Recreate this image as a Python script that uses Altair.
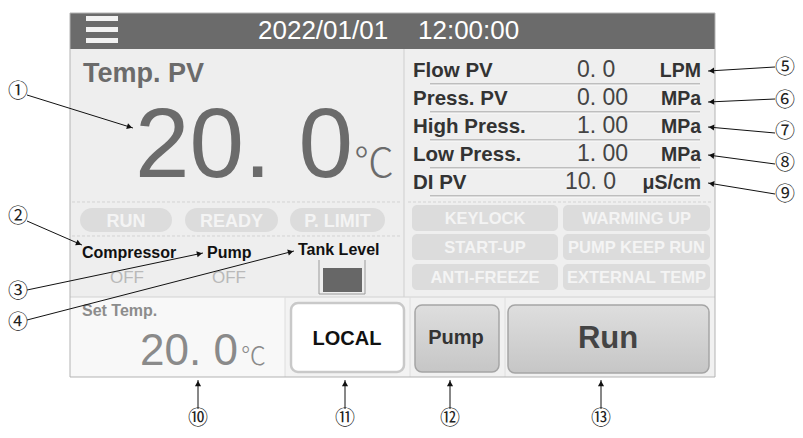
import math
import altair as alt
import pandas as pd

# ---------------- content (values shown on the panel) ----------------
header_date = "2022/01/01"
header_time = "12:00:00"
pv_title = "Temp. PV"
pv_value = "20. 0"
pv_unit = "℃"
mode_flags = ["RUN", "READY", "P. LIMIT"]
device_names = ["Compressor", "Pump"]
device_states = ["OFF", "OFF"]
tank_title = "Tank Level"
meas_labels = ["Flow PV", "Press. PV", "High Press.", "Low Press.", "DI PV"]
meas_values = ["0. 0", "0. 00", "1. 00", "1. 00", "10. 0"]
meas_units = ["LPM", "MPa", "MPa", "MPa", "μS/cm"]
status_flags = ["KEYLOCK", "WARMING UP", "START-UP", "PUMP KEEP RUN",
                "ANTI-FREEZE", "EXTERNAL TEMP"]
sp_title = "Set Temp."
sp_value = "20. 0"
sp_unit = "℃"
button_labels = ["LOCAL", "Pump", "Run"]
callout_marks = ["①", "②", "③", "④", "⑤", "⑥", "⑦", "⑧", "⑨", "⑩", "⑪", "⑫", "⑬"]

# ---------------- layout (screen pixel coordinates) ----------------
W, H = 787, 422
XS = alt.Scale(domain=[8, 8 + W], nice=False, zero=False)
YS = alt.Scale(domain=[8, 8 + H], nice=False, zero=False, reverse=True)

SANS = "Liberation Sans, Arial, sans-serif"
CJK = "Noto Sans CJK JP, DejaVu Sans, sans-serif"

FX0, FY0, FX1, FY1 = 70, 13, 715, 377
HEAD_Y1 = 49
SPLIT_X = 404
ROW_Y = 297


def rects(rows, **mark):
    df = pd.DataFrame(rows, columns=["x", "y", "x2", "y2", "c"])
    enc = dict(
        x=alt.X("x:Q", scale=XS, axis=None), x2="x2:Q",
        y=alt.Y("y:Q", scale=YS, axis=None), y2="y2:Q",
    )
    if "fill" not in mark:
        enc["fill"] = alt.Fill("c:N", scale=None, legend=None)
    return alt.Chart(df).mark_rect(**mark).encode(**enc)


def rules(rows, **mark):
    df = pd.DataFrame(rows, columns=["x", "y", "x2", "y2", "c"])
    return alt.Chart(df).mark_rule(**mark).encode(
        x=alt.X("x:Q", scale=XS, axis=None), x2="x2:Q",
        y=alt.Y("y:Q", scale=YS, axis=None), y2="y2:Q",
        color=alt.Color("c:N", scale=None, legend=None),
    )


def texts(rows, **mark):
    df = pd.DataFrame(rows, columns=["x", "y", "t", "s", "c"])
    return alt.Chart(df).mark_text(**mark).encode(
        x=alt.X("x:Q", scale=XS, axis=None),
        y=alt.Y("y:Q", scale=YS, axis=None),
        text="t:N",
        size=alt.Size("s:Q", scale=None, legend=None),
        color=alt.Color("c:N", scale=None, legend=None),
    )


layers = []

# backgrounds
layers.append(rects([
    (FX0, HEAD_Y1, SPLIT_X, ROW_Y, "#eeeeee"),
    (SPLIT_X, HEAD_Y1, FX1, ROW_Y, "#efefef"),
    (FX0, ROW_Y, 285, FY1, "#f8f8f8"),
    (285, ROW_Y, 410, FY1, "#f3f3f3"),
    (410, ROW_Y, FX1, FY1, "#f1f1f1"),
    (FX0, FY0, FX1, HEAD_Y1, "#6b6b6b"),
    (86, 16, 118, 21, "#f2f2f2"),
    (86, 27, 118, 32, "#f2f2f2"),
    (86, 38, 118, 43, "#f2f2f2"),
    (323, 268, 362, 292, "#676767"),
]))

# pills (left) and status boxes (right)
pill_boxes = [(80, 208, 172, 232), (185, 208, 278, 232), (290, 208, 385, 232)]
layers.append(rects([b + ("#dcdcdc",) for b in pill_boxes], cornerRadius=12))
status_boxes = [(412, 205, 558, 231), (563, 205, 710, 231),
                (412, 234, 558, 260), (563, 234, 710, 260),
                (412, 264, 558, 290), (563, 264, 710, 290)]
layers.append(rects([b + ("#dcdcdc",) for b in status_boxes], cornerRadius=5))

# buttons
btn_boxes = [(291, 303, 404, 372), (415, 305, 499, 372), (508, 305, 709, 373)]
layers.append(rects([btn_boxes[0] + ("#ffffff",)], cornerRadius=7,
                    stroke="#c9c9c9", strokeWidth=2.5))
grad = alt.Gradient(gradient="linear", x1=0, x2=0, y1=0, y2=1,
                    stops=[alt.GradientStop(color="#dedede", offset=0),
                           alt.GradientStop(color="#d2d2d2", offset=0.5),
                           alt.GradientStop(color="#c6c6c6", offset=1)])
layers.append(rects([b + ("x",) for b in btn_boxes[1:]], cornerRadius=7,
                    fill=grad, stroke="#a5a5a5", strokeWidth=1.5))

# lines
layers.append(rules([
    (SPLIT_X, HEAD_Y1, SPLIT_X, ROW_Y, "#cfcfcf"),
    (FX0, ROW_Y, FX1, ROW_Y, "#d2d2d2"),
    (285, ROW_Y, 285, FY1, "#dedede"),
    (410, ROW_Y, 410, FY1, "#dedede"),
    (505, ROW_Y, 505, FY1, "#dedede"),
    (319, 260, 319, 294, "#9a9a9a"),
    (365, 260, 365, 294, "#9a9a9a"),
    (319, 294, 365, 294, "#9a9a9a"),
], strokeWidth=1))
meas_base = [77, 105, 133, 161, 189]
layers.append(rules([(430, b + 7, 700, b + 7, "#8c8c8c") for b in meas_base]
                    + [(430, b + 8, 700, b + 8, "#fbfbfb") for b in meas_base],
                    strokeWidth=1))
layers.append(rules([
    (72, 202, 400, 202, "#d3d3d3"),
    (72, 236, 400, 236, "#d3d3d3"),
    (408, 202, 713, 202, "#d3d3d3"),
], strokeWidth=1, strokeDash=[3, 2]))

# frame border
layers.append(rects([(FX0, FY0, FX1, FY1, "x")], fill="transparent",
                    stroke="#b3b3b3", strokeWidth=1))

# texts: header
layers.append(texts([(258, 39, header_date, 26, "#ffffff"),
                     (418, 39, header_time, 26, "#ffffff")],
                    font=SANS, align="left", baseline="alphabetic"))
# temperature PV
layers.append(texts([(83, 82, pv_title, 27, "#6b6b6b")],
                    font=SANS, fontWeight="bold", align="left", baseline="alphabetic"))
layers.append(texts([(135, 177, pv_value, 98, "#6b6b6b"),
                     (140, 365, sp_value, 44, "#8a8a8a")],
                    font=SANS, align="left", baseline="alphabetic"))
layers.append(texts([(354, 177, pv_unit, 40, "#6b6b6b"),
                     (241, 365, sp_unit, 25, "#8a8a8a")],
                    font=CJK, fontWeight=300, align="left", baseline="alphabetic"))
# pills text
layers.append(texts([((b[0] + b[2]) / 2, 227, t, 18, "#f4f4f4")
                     for b, t in zip(pill_boxes, mode_flags)]
                    + [((b[0] + b[2]) / 2, b[1] + 19, t, 16.5, "#f4f4f4")
                       for b, t in zip(status_boxes, status_flags)],
                    font=SANS, fontWeight="bold", align="center", baseline="alphabetic"))
# device labels
layers.append(texts([(82, 258, device_names[0], 16, "#111111"),
                     (207, 258, device_names[1], 16, "#111111"),
                     (298, 255, tank_title, 16, "#111111")],
                    font=SANS, fontWeight="bold", align="left", baseline="alphabetic"))
layers.append(texts([(110, 283, device_states[0], 17, "#b9b9b9"),
                     (212, 283, device_states[1], 17, "#b9b9b9")],
                    font=SANS, align="left", baseline="alphabetic"))
# measurement rows
layers.append(texts([(413, b, t, 20.5, "#333333") for b, t in zip(meas_base, meas_labels)]
                    + [(82, 316, sp_title, 16, "#8c8c8c")],
                    font=SANS, fontWeight="bold", align="left", baseline="alphabetic"))
value_x = [577, 577, 577, 577, 565]
layers.append(texts([(x, b, t, 23, "#444444") for x, b, t in zip(value_x, meas_base, meas_values)],
                    font=SANS, align="left", baseline="alphabetic"))
layers.append(texts([(701, b, t, 19.5, "#333333") for b, t in zip(meas_base, meas_units)],
                    font=SANS, fontWeight="bold", align="right", baseline="alphabetic"))
# buttons text
btn_text_pos = [(347, 345, 20, "#111111"), (456, 344, 20, "#333333"), (608, 348, 31, "#444444")]
layers.append(texts([(p[0], p[1], t, p[2], p[3]) for p, t in zip(btn_text_pos, button_labels)],
                    font=SANS, fontWeight="bold", align="center", baseline="alphabetic"))

# callouts
callout_pos = [(18, 92), (18, 217), (18, 292), (18, 323),
               (785, 68), (785, 101), (785, 132), (785, 164), (785, 195),
               (198, 419), (345, 419), (450, 419), (601, 419)]
arrows = [((27, 95), (133, 128)), ((27, 221), (82, 245)), ((27, 290), (203, 253)),
          ((27, 320), (294, 251)),
          ((775, 67), (708, 71)), ((775, 99), (708, 102)), ((775, 133), (708, 127)),
          ((775, 164), (708, 155)), ((775, 194), (708, 183)),
          ((198, 409), (198, 380)), ((345, 409), (345, 380)),
          ((450, 409), (450, 380)), ((601, 409), (601, 380))]
layers.append(rules([(a[0], a[1], b[0], b[1], "#111111") for a, b in arrows], strokeWidth=1))
heads = []
for a, b in arrows:
    dx, dy = b[0] - a[0], b[1] - a[1]
    L = math.hypot(dx, dy)
    ang = math.degrees(math.atan2(dx, -dy)) % 360
    heads.append({"x": b[0] - dx / L * 3.5, "y": b[1] - dy / L * 3.5, "a": ang})
layers.append(alt.Chart(pd.DataFrame(heads)).mark_point(
    shape="triangle-up", filled=True, size=38, color="#111111", opacity=1).encode(
    x=alt.X("x:Q", scale=XS, axis=None),
    y=alt.Y("y:Q", scale=YS, axis=None),
    angle=alt.Angle("a:Q", scale=None),
))
layers.append(texts([(p[0], p[1], t, 20, "#222222") for p, t in zip(callout_pos, callout_marks)],
                    font=CJK, align="center", baseline="middle"))

chart = alt.layer(*layers).properties(
    width=W, height=H, padding=0, autosize="none", background="#ffffff"
).configure_view(stroke=None)

chart.save("out.html", embed_options={"renderer": "svg", "actions": False})
